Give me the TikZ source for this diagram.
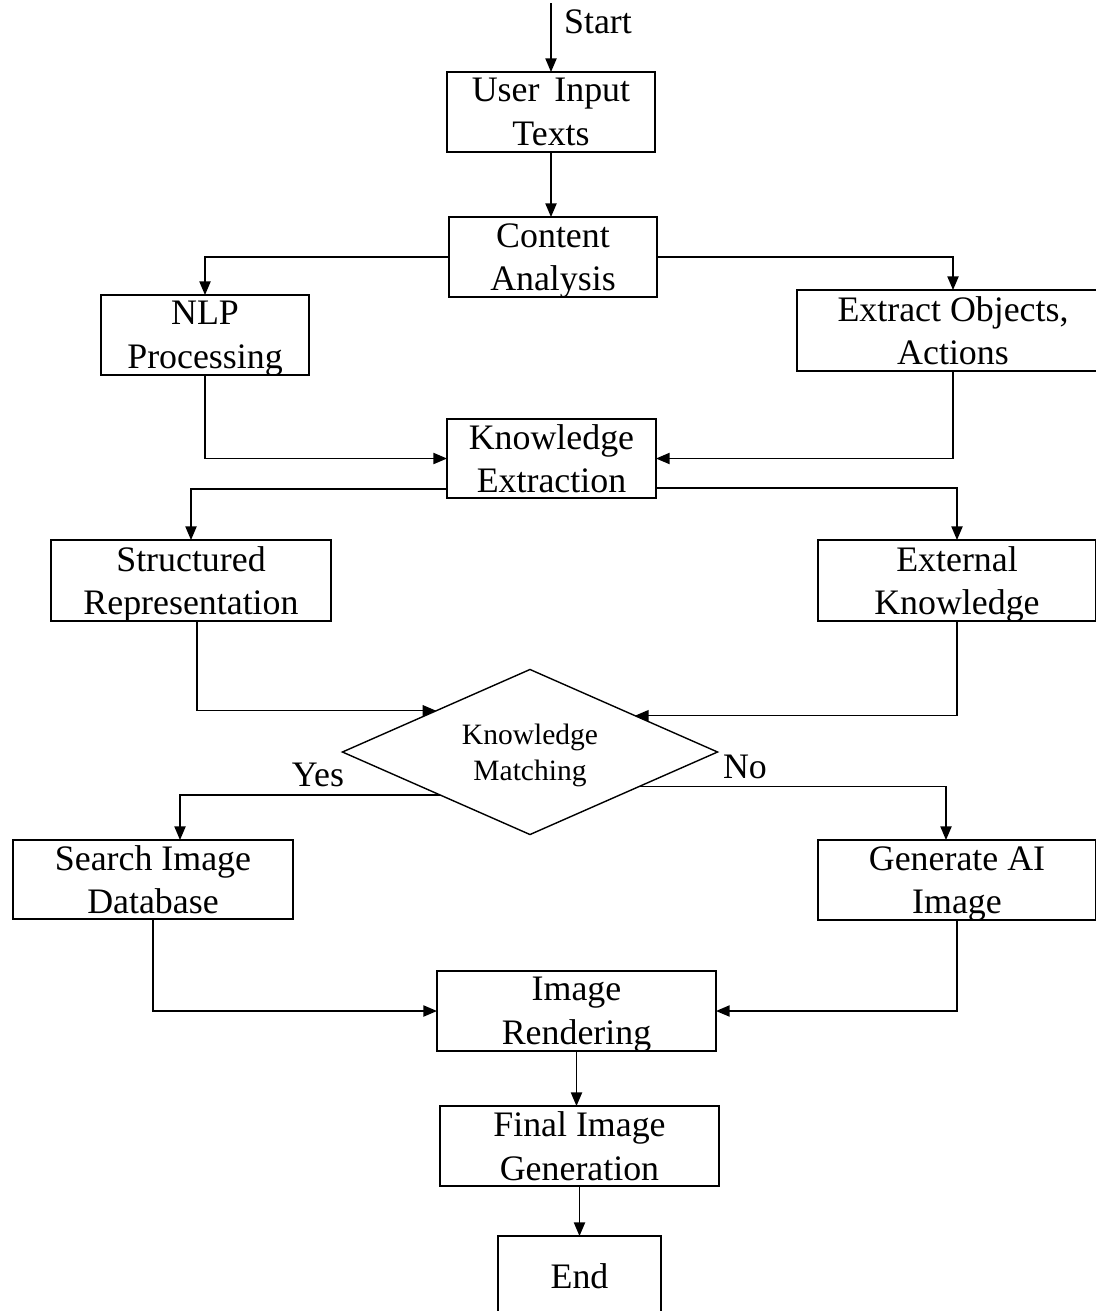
\documentclass[tikz,border=0pt]{standalone}
\usepackage{fontspec}
\setmainfont{Liberation Serif}
\usepackage{tikz}
\usetikzlibrary{arrows.meta,shapes.geometric,calc}

\tikzset{
  box/.style={draw, line width=1pt, inner sep=0pt, outer sep=0pt, align=center,
    text depth=0pt, font=\fontsize{25.5}{31}\selectfont},
  flow/.style={line width=1pt, -{Triangle[length=3.4mm,width=2.8mm]}},
  lbl/.style={inner sep=0pt, font=\fontsize{25.5}{31}\selectfont}
}

\begin{document}
\begin{tikzpicture}[x=0.025cm,y=-0.025cm]
    \useasboundingbox (0,0) rectangle (1096,1311);
    \clip (0,0) rectangle (1096,1311);

    % boxes
    \node[box, minimum width=5.2cm, minimum height=2cm] (input) at (551,112) {User\, Input\\Texts};
    \node[box, minimum width=5.2cm, minimum height=2cm] (content) at (553,257) {Content\\Analysis};
    \node[box, minimum width=5.2cm, minimum height=2cm] (nlp) at (205,335) {NLP\\Processing};
    \node[box, minimum width=7.8cm, minimum height=2.025cm] (extract) at (953,330.5) {Extract Objects,\\Actions};
    \node[box, minimum width=5.225cm, minimum height=1.975cm] (knowl) at (551.5,458.5) {Knowledge\\Extraction};
    \node[box, minimum width=7cm, minimum height=2.025cm] (struct) at (191,580.5) {Structured\\Representation};
    \node[box, minimum width=6.95cm, minimum height=2.025cm] (extern) at (957,580.5) {External\\Knowledge};
    \node[box, diamond, aspect=2.27, minimum width=9.375cm, minimum height=4.125cm,
          font=\fontsize{21}{25.6}\selectfont] (match) at (530,752) {Knowledge\\Matching};
    \node[box, minimum width=7cm, minimum height=1.975cm] (search) at (153,879.5) {Search Image\\Database};
    \node[box, minimum width=6.95cm, minimum height=2cm] (generate) at (957,880) {Generate AI\\Image};
    \node[box, minimum width=6.975cm, minimum height=2cm] (render) at (576.5,1011) {Image\\Rendering};
    \node[box, minimum width=6.975cm, minimum height=2cm] (final) at (579.5,1146) {Final Image\\Generation};
    \node[box, minimum width=4.075cm, minimum height=2cm] (end) at (579.5,1276) {End};

    % labels
    \coordinate (start) at (551,3);
    \node[lbl] (startlbl) at (598,22) {Start};
    \node[lbl] (yeslbl) at (318,775) {Yes};
    \node[lbl] (nolbl) at (745,767) {No};

    % points on the diamond
    \coordinate (inR) at ($(match.north)!0.56!(match.east)$);
    \coordinate (outY) at ($(match.west)!0.52!(match.south)$);
    \coordinate (outN) at ($(match.east)!0.42!(match.south)$);

    % arrows
    \draw[flow] (start) -- (input.north);
    \draw[flow] (input.south) -- (input.south |- content.north);
    \draw[flow] (content.west) -| (nlp.north);
    \draw[flow] (content.east) -| (extract.north);
    \draw[flow] (nlp.south) |- (knowl.west);
    \draw[flow] (extract.south) |- (knowl.east);
    \draw[flow] ([yshift=-0.7625cm]knowl.west) -| (struct.north);
    \draw[flow] ([yshift=-0.74cm]knowl.east) -| (extern.north);
    \draw[flow] ([xshift=0.15cm]struct.south) |- (match.north west);
    \draw[flow] (extern.south) |- (inR);
    \draw[flow] (outY) -| ([xshift=0.675cm]search.north);
    \draw[flow] (outN) -| ([xshift=-0.275cm]generate.north);
    \draw[flow] (search.south) |- (render.west);
    \draw[flow] (generate.south) |- (render.east);
    \draw[flow] (render.south) -- (render.south |- final.north);
    \draw[flow] (final.south) -- (final.south |- end.north);
\end{tikzpicture}
\end{document}
